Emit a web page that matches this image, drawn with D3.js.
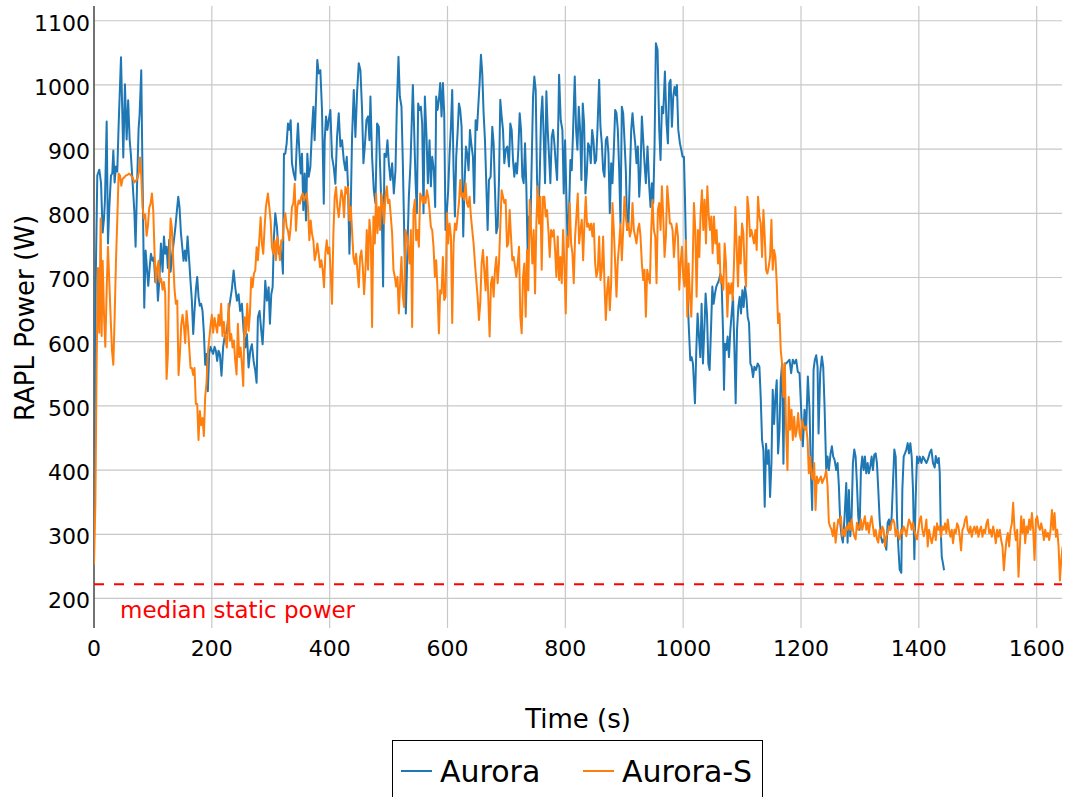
<!DOCTYPE html>
<html><head><meta charset="utf-8">
<script src="https://cdn.jsdelivr.net/npm/d3@7"></script>
<style>body{margin:0;background:#fff}svg text{font-family:"DejaVu Sans",sans-serif}</style>
</head><body><svg id="c" width="1072" height="797"></svg>
<script>
const seriesNames = ["Aurora", "Aurora-S"];
const seriesColors = ["#1f77b4", "#ff7f0e"];
const xTicks = [0, 200, 400, 600, 800, 1000, 1200, 1400, 1600];
const yTicks = [200, 300, 400, 500, 600, 700, 800, 900, 1000, 1100];
const medianStaticPower = 222;
const xTitle = "Time (s)";
const yTitle = "RAPL Power (W)";
const annotationText = "median static power";

// [time (s), power (W)]
const aurora = [[0,290],[3,700],[5.6,859],[9,868],[11.9,848],[14.7,770],[17,792],[18.6,820],[21.5,943],[23.7,753],[26,809],[28.8,859],[31,862],[32.8,898],[35,848],[37.3,873],[39.5,865],[41.8,937],[45.8,1043],[48,959],[49.7,887],[52.5,1001],[55.4,915],[58,976],[60.5,915],[62.7,890],[65.5,848],[68.4,804],[70.6,748],[72.9,837],[75.7,932],[77.4,954],[80.2,1023],[82.5,848],[85.3,653],[87.6,742],[89.8,715],[92.1,687],[94.4,715],[96.6,737],[99.4,726],[101.7,731],[104,693],[106.2,715],[108.5,664],[110.7,693],[113.6,753],[116.4,709],[118.7,764],[120.9,737],[123.2,748],[125.4,715],[127.7,759],[130,709],[132.8,737],[135,753],[137.9,776],[140.1,798],[143,826],[145.2,809],[147.5,770],[149.7,748],[152,726],[154.2,742],[156.5,726],[158.8,764],[161.6,726],[163.9,693],[166.1,664],[168.4,612],[170.6,648],[172.9,681],[175.2,701],[177.4,670],[179.7,656],[181.9,659],[184.2,648],[186.5,614],[188.7,564],[191,581],[193.2,523],[195.5,581],[197.8,592],[200,586],[202.3,581],[204.6,592],[206.8,586],[209.1,570],[211.3,586],[213.6,581],[216.4,547],[219.2,592],[222,609],
[225.5,617],[229.5,654],[234,682],[237,711],[239.7,685],[242.6,664],[245.4,674],[248,648],[251,659],[253.9,617],[257,591],[259.5,612],[262.4,560],[265.2,586],[268,596],[270.9,570],[273.7,555],[276,536],[278.2,638],[281,648],[283.9,617],[286.2,596],[288.4,638],[290.7,695],[293.5,664],[296.4,685],[298.6,628],[300.9,674],[303.2,685],[305.4,763],[307.7,800],[310.5,779],[313.4,737],[316.2,747],[319,732],[320.7,706],[322.4,893],[324.7,893],[327,909],[329.2,940],[331.5,930],[333.8,945],[336,878],[338.9,862],[341.7,852],[344,904],[346.2,940],[348.5,898],[350.8,862],[353,893],[355.3,805],[357.6,862],[359.8,789],[362.1,893],[364.4,857],[367.2,872],[370,930],[372.3,966],[374.5,914],[376.8,977],[379,1039],[381.4,1018],[384.2,1023],[387,961],[390,815],[391.6,914],[393.8,951],[396.1,930],[398.4,945],[401.2,961],[404,888],[406.9,872],[409.7,846],[412.5,919],[415.4,956],[418.2,904],[421,914],[423.9,883],[426.7,867],[429,888],[431.2,841],[433.5,737],[435.8,810],[438,919],[440.9,992],[443.7,919],[446.5,987],[449.4,1034],[452.2,1023],[455,961],[457.3,878],[459.6,904],[462.4,945],[465.2,951],[467.5,914],
[469.2,982],[472,888],[474.9,836],[477.7,816],[480.5,940],[483.4,935],[486.2,857],[489,774],[490.7,686],[493,893],[495.8,888],[498.1,914],[500.4,878],[503.2,852],[506,878],[508.9,831],[511.7,867],[514,966],[516.8,1044],[519.1,982],[521.9,966],[524.2,878],[527,748],[529.3,644],[532.1,748],[534.4,826],[537.2,878],[541.2,1000],[543.4,930],[545.7,852],[548,800],[550.2,971],[552.5,961],[554.8,966],[557,940],[559.3,800],[561.6,982],[564.4,919],[566.7,847],[569.5,914],[571.8,842],[574,888],[576.9,867],[579.1,810],[580.8,982],[583.1,961],[585.4,977],[587.6,1003],[589.9,951],[592.2,1003],[594.4,956],[596.7,774],[599,805],[601.2,836],[603.5,893],[605.8,935],[608,992],[610.3,867],[612.6,795],[614.8,888],[617.1,925],[619.4,971],[621.6,961],[623.9,935],[626.7,764],[629,847],[631.3,904],[633.5,893],[635.8,867],[638.1,930],[640.3,909],[643.2,888],[645.4,816],[647.7,945],[650,930],[652.2,966],[654.5,1003],[656.8,1047],[659,1018],[661.3,956],[663.6,914],[665.8,847],[668.1,774],[670.4,852],[673.2,857],[676,935],[678.3,909],[680.6,836],[682.8,769],[685.1,779],[687.4,852],[689.6,977],[691.9,951],[694.2,930],[696.4,878],
[698.7,899],[701.5,904],[704.4,873],[706.6,940],[708.9,930],[711.2,883],[713.4,857],[715.7,878],[718,862],[720.2,899],[722.5,956],[724.8,930],[727,857],[729.3,847],[731.6,909],[733.8,842],[736.1,738],[738.4,795],[740.6,774],[742.9,878],[745.2,982],[747.4,1013],[749.7,992],[752,852],[754.2,795],[756.5,857],[758.8,951],[761,982],[763.3,919],[765.6,847],[767.8,990],[770.1,930],[772.4,888],[774.6,847],[776.9,919],[779.2,930],[781.4,909],[783.7,878],[786,852],[788.2,951],[789.4,1016],[792.2,945],[795,930],[797.3,831],[799.6,914],[801.8,826],[804.1,748],[806.4,805],[808.6,883],[810.9,867],[813.2,930],[816,1013],[818.3,930],[820.5,899],[822.8,966],[825.1,930],[827.3,852],[829.6,971],[831.9,940],[834.1,831],[836.4,862],[838.7,909],[840.9,904],[843.2,878],[845.5,930],[847.7,914],[850,878],[852.3,883],[854.5,930],[857.4,1008],[859.6,935],[861.9,909],[864.2,867],[866.4,857],[868.7,914],[871,919],[873.2,893],[875.5,800],[877.8,878],[880,847],[882.3,899],[884.6,961],[886.8,956],[889.1,930],[891.4,867],[893.6,784],[895.9,966],[898.2,956],[900.4,914],[902.7,867],[905,774],[907.2,784],[909.5,857],[911.8,930],[914,956],[916.3,930],[918.6,909],[920.8,878],[923.1,904],[925.4,826],[927.6,867],[929.9,951],[932.2,914],[934.4,878],[936.7,847],[939.5,904],
[942.4,842],[944.6,810],[946.9,847],[949.2,816],[951.4,904],[953.7,1065],[956.5,1055],[959.4,930],[961.6,883],[963.9,966],[966.2,956],[969,1021],[971.8,940],[974.1,909],[976.4,1003],[978.6,1008],[980.9,935],[983.2,982],[985.4,997],[987.7,984],[989.4,1000],[991.7,930],[994.5,909],[996.8,899],[999,888],[1001.3,888],[1003,826],[1005.3,722],[1007.5,670],[1009.8,618],[1012.1,571],[1014.3,576],[1016.6,566],[1020,504],[1022.3,587],[1024.5,644],[1026.8,608],[1029.1,576],[1031.3,659],[1033.6,566],[1035.9,618],[1038.1,675],[1040.4,644],[1042.7,566],[1044.9,556],[1047.2,618],[1049.5,686],[1051.7,659],[1054,675],[1056.3,686],[1058.5,691],[1060.8,696],[1063.1,706],[1065.3,691],[1067.6,618],[1069.3,525],[1071,597],[1073.3,587],[1075.5,608],[1077.8,576],[1080.1,618],[1082.3,644],[1084.6,670],[1086.9,592],[1089.1,504],[1091.4,618],[1093.7,654],[1095.9,670],[1098.2,644],[1100.5,680],[1102.7,654],[1105,686],[1107.3,670],[1109.5,639],[1111.8,629],[1114.1,566],[1116.3,561],[1118.6,545],[1120.9,561],[1123.7,556],[1126.5,566],[1129.4,561],[1131.6,514],[1133.9,447],[1136.2,431],[1138.4,343],[1140.7,441],[1143,410],[1145.2,431],[1147.5,358],[1149.8,410],[1152,525],[1154.3,472],[1156.6,514],[1158.8,540],[1161.1,426],[1163.4,462],[1165.6,540],[1167.9,566],[1170.2,410],[1172.4,566],[1174.7,566],
[1177.6,569],[1180.5,572],[1183.3,551],[1186.1,572],[1189,566],[1191.8,572],[1194.6,553],[1197.5,551],[1200.3,494],[1203.1,437],[1206,494],[1208.8,463],[1211.6,546],[1214.5,494],[1216.7,400],[1219,338],[1221.3,556],[1223.5,572],[1225.8,579],[1228.1,561],[1229.8,457],[1232.6,551],[1235.4,577],[1237.7,561],[1240,499],[1242.8,400],[1245.1,421],[1247.3,400],[1250.2,426],[1252.4,437],[1254.7,421],[1257,416],[1259.8,400],[1262.1,411],[1264.3,375],[1266.6,318],[1268.9,297],[1271.1,287],[1274,328],[1276.8,380],[1279.1,287],[1281.3,369],[1283.6,297],[1285.9,328],[1288.1,411],[1290.4,432],[1292.7,421],[1294.9,380],[1297.2,328],[1299.5,307],[1301.7,400],[1304,421],[1306.3,400],[1308.5,421],[1310.8,395],[1313.1,411],[1315.3,395],[1317.6,406],[1319.9,421],[1322.1,400],[1324.4,424],[1326.7,426],[1328.9,411],[1331.2,369],[1333.5,323],[1335.7,297],[1338,287],[1340.3,292],[1342.5,287],[1344.8,276],[1347.1,318],[1349.3,323],[1351.6,307],[1353.9,328],[1356.1,380],[1358.4,432],[1360.7,421],[1362.9,328],[1365.2,281],[1367.5,245],[1370.3,240],[1372,369],[1374.3,421],[1376.5,426],[1378.8,432],[1381.1,442],[1383.3,426],[1385.6,442],[1387.9,421],[1390.1,369],[1392.4,261],[1394.7,359],[1396.9,421],[1399.2,411],[1401.5,421],[1404.3,411],[1407.1,421],[1410,416],[1412.8,411],[1415.6,417],[1418.5,427],[1421.3,432],[1424.1,411],[1427,404],[1428.7,422],[1431.5,411],[1433.8,419],[1435.5,396],[1437.2,307],[1438.9,265],[1441.1,254],[1442.8,244]];

const auroraS = [[0,253],[2.3,347],[4.5,570],[6.8,715],[9,614],[11.3,792],[13,609],[14.7,726],[17,642],[19.2,592],[21.5,681],[23.7,748],[26,693],[28.3,637],[30.5,587],[32.8,564],[35,637],[37.3,726],[39.6,792],[41.8,862],[44.1,859],[46.3,843],[48.6,854],[51.4,856],[54.2,859],[57.1,860],[59.9,862],[62.7,859],[65.5,856],[68.4,848],[71.2,851],[74,854],[76.3,865],[78,887],[80.2,859],[82.5,809],[84.8,792],[87,798],[89.3,765],[91.5,781],[93.8,809],[96.1,815],[98.3,831],[100.6,804],[102.8,737],[105.1,692],[107.4,715],[109.6,726],[111.9,693],[114.1,698],[116.4,681],[118.7,693],[120.9,676],[123.2,542],[125.4,581],[127.7,726],[130,792],[132.2,776],[134.5,726],[136.7,681],[139,659],[141.3,664],[143.5,548],[145.8,581],[148,625],[150.3,642],[152.6,625],[154.8,598],[157.1,648],[159.3,625],[161.6,592],[163.9,559],[166.1,559],[168.4,548],[170.6,559],[172.9,503],[175.2,503],[177.4,447],[179.7,492],[181.9,470],[184.2,481],[186.5,453],[188.7,514],[191,536],[193.2,581],[195.5,603],[197.8,625],[200,642],[202.3,614],[204.6,637],[206.8,625],[209.1,614],[211.3,642],[213.6,625],[215.8,659],[218.1,609],[220.4,631],[222.6,609],
[225.5,591],[228.4,659],[230.6,602],[232.9,612],[235.2,591],[237.4,602],[239.7,570],[242,549],[244.2,628],[246.5,576],[248.8,591],[251,565],[253.3,531],[255.6,638],[257.8,612],[260.1,659],[262.4,617],[264.6,643],[266.9,700],[269.2,685],[271.4,706],[273.7,711],[276,747],[278.2,727],[280.5,758],[282.8,794],[285,753],[287.3,737],[289.6,779],[291.8,810],[295.2,831],[297.5,810],[299.8,789],[302,747],[304.3,737],[306.6,758],[308.8,727],[311.1,763],[313.4,747],[315.6,727],[317.9,758],[320.2,758],[322.4,789],[324.7,800],[327,779],[329.2,773],[331.5,758],[333.8,779],[336,810],[338.3,815],[340.6,846],[342.8,773],[345.1,810],[347.4,820],[349.6,815],[351.9,826],[354.2,831],[356.4,820],[358.7,826],[361,831],[363.2,810],[365.5,758],[367.8,789],[370,768],[372.3,758],[374.6,727],[376.8,737],[379.1,753],[381.4,737],[383.6,716],[385.9,727],[388.2,711],[390.4,685],[392.7,737],[395,758],[397.2,737],[399.5,747],[401.8,706],[404,659],[406.3,768],[408.6,826],[410.8,841],[413.1,810],[415.4,794],[417.6,815],[419.9,836],[422.2,826],[424.4,794],[426.7,841],[429,831],[431.2,841],[433.5,789],[435.8,810],[438,773],[440.3,732],[442.6,721],[444.8,737],[447.1,711],[449.4,685],[451.6,732],[453.9,742],[456.2,716],[458.4,674],[460.7,711],
[463,774],[465.2,712],[467.5,790],[469.8,764],[472,623],[474.3,795],[476.6,753],[478.8,831],[481.1,769],[483.4,810],[485.6,774],[487.9,831],[490.2,816],[492.4,784],[494.7,826],[497,842],[499.2,816],[501.5,821],[503.8,795],[506,769],[508.3,712],[510.6,701],[512.8,686],[515.1,701],[517.4,644],[519.6,691],[521.9,732],[524.2,670],[526.4,654],[528.7,774],[531,764],[533.2,748],[535.5,722],[537.8,774],[540,623],[542.3,805],[544.6,821],[546.8,758],[549.1,774],[551.4,748],[553.6,831],[555.9,826],[558.2,816],[560.4,826],[562.7,816],[565,836],[567.2,826],[569.5,805],[571.8,779],[574,774],[576.3,748],[578.6,701],[580.8,727],[583.1,680],[585.4,613],[587.6,680],[589.9,675],[592.2,732],[594.4,665],[596.7,670],[599,800],[601.2,753],[603.5,784],[605.8,764],[608,629],[610.3,753],[612.6,784],[614.8,774],[617.1,795],[619.4,816],[621.6,852],[623.9,826],[626.2,831],[628.4,821],[630.7,847],[633,816],[635.2,810],[637.5,826],[639.8,795],[642,774],[644.3,753],[646.6,722],[648.8,696],[651.1,670],[653.4,634],[655.6,660],[657.9,722],[660.2,743],[662.4,712],[664.7,680],[667,732],[669.2,670],[671.5,608],[673.8,691],[676,701],[678.3,670],[680.6,712],[682.8,732],[685.1,691],[687.4,722],[689.6,779],[691.9,836],[694.2,826],[696.4,816],
[698.7,821],[701,748],[703.2,753],[705.5,805],[707.8,764],[710,727],[712.3,732],[714.6,717],[716.8,701],[719.1,722],[721.4,748],[723.6,639],[725.9,613],[728.2,701],[730.4,722],[732.7,639],[735,743],[737.2,680],[739.5,821],[741.8,774],[744,722],[746.3,774],[748.6,675],[750.8,784],[753.1,842],[755.4,784],[757.6,826],[759.9,712],[762.2,826],[764.4,826],[766.7,795],[769,805],[771.2,774],[773.5,732],[775.8,774],[778,764],[780.3,774],[782.6,743],[784.8,701],[787.1,764],[789.4,696],[791.6,732],[793.9,691],[796.2,774],[798.4,722],[800.7,644],[803,764],[805.2,748],[807.5,816],[809.8,753],[812,738],[814.3,691],[816.6,764],[818.8,795],[821.1,831],[823.4,753],[825.6,774],[827.9,790],[830.2,727],[832.4,784],[834.7,826],[837,779],[839.2,784],[841.5,774],[843.8,784],[846,764],[848.3,784],[850.6,722],[852.8,701],[855.1,712],[857.4,764],[859.6,696],[861.9,712],[864.2,764],[866.4,691],[868.7,634],[871,680],[873.2,701],[875.5,649],[877.8,691],[880,816],[882.3,774],[884.6,722],[886.8,670],[889.1,727],[891.4,753],[893.6,784],[895.9,727],[898.2,774],[900.4,826],[902.7,795],[905,774],[907.2,784],[909.5,764],[911.8,774],[914,816],[916.3,774],[918.6,764],[920.8,753],[923.1,774],[925.4,784],[927.6,764],[929.9,722],[932.2,696],[934.4,712],[936.7,639],[939,712],[941.2,701],[943.5,691],
[945.8,774],[948,821],[950.3,774],[952.6,764],[954.8,691],[957.1,805],[959.4,816],[961.6,774],[963.9,842],[966.2,795],[968.4,732],[970.7,764],[973,842],[975.2,816],[977.5,784],[979.8,784],[982,774],[984.3,732],[986.6,764],[988.8,784],[991.1,764],[993.4,681],[995.6,722],[997.9,748],[1000.2,701],[1002.4,686],[1004.7,758],[1007,639],[1009.2,722],[1011.5,670],[1013.8,639],[1016,712],[1018.3,816],[1020.6,774],[1022.8,670],[1025.1,774],[1027.4,732],[1029.6,800],[1031.9,836],[1034.2,774],[1036.4,821],[1038.7,753],[1041,842],[1043.2,800],[1045.5,774],[1047.8,795],[1050,738],[1052.3,795],[1054.6,753],[1056.8,774],[1059.1,722],[1061.4,753],[1063.6,691],[1065.9,701],[1068.2,681],[1070.4,753],[1072.7,722],[1075,639],[1077.2,691],[1079.5,675],[1081.8,691],[1084,665],[1086.3,722],[1088.6,810],[1090.8,748],[1093.1,686],[1095.4,764],[1097.6,722],[1099.9,784],[1102.2,769],[1104.4,712],[1106.7,686],[1109,826],[1111.2,805],[1113.5,764],[1115.8,774],[1118,764],[1120.3,753],[1122.6,774],[1124.8,743],[1127.1,826],[1129.4,795],[1131.6,784],[1133.9,732],[1136.2,805],[1138.4,764],[1140.7,712],[1143,706],[1145.2,717],[1147.5,732],[1149.8,790],[1152,712],[1154.3,743],[1156.6,732],[1158.8,691],[1161.1,629],[1163.4,644],[1165.6,587],[1167.9,566],[1170.2,514],[1172.4,566],[1174.7,462],[1177,400],[1179.2,514],
[1181.6,463],[1183.9,494],[1186.1,447],[1188.4,483],[1190.7,452],[1192.9,463],[1195.2,489],[1197.5,458],[1199.7,447],[1202,478],[1204.3,468],[1206.5,463],[1208.8,468],[1211.1,447],[1213.3,395],[1215.6,421],[1217.9,390],[1220.1,385],[1222.4,411],[1224.7,338],[1226.9,390],[1229.2,380],[1231.5,385],[1233.7,390],[1236,380],[1238.3,385],[1240.5,390],[1242.8,400],[1245.1,375],[1247.3,318],[1249.6,312],[1251.9,307],[1254.1,297],[1256.4,318],[1258.7,287],[1260.9,307],[1263.2,323],[1265.5,318],[1267.7,328],[1270,297],[1272.3,307],[1274.5,297],[1276.8,312],[1279.1,307],[1281.3,318],[1283.6,307],[1285.9,323],[1288.1,307],[1290.4,297],[1292.7,292],[1294.9,318],[1297.2,307],[1299.5,312],[1301.7,323],[1304,307],[1306.3,318],[1308.5,328],[1310.8,307],[1313.1,318],[1315.3,302],[1317.6,318],[1319.9,328],[1322.1,312],[1324.4,297],[1326.7,307],[1328.9,292],[1331.2,287],[1333.5,307],[1335.7,297],[1338,312],[1340.3,307],[1342.5,281],[1344.8,297],[1347.1,302],[1349.3,312],[1351.6,307],[1353.9,318],[1356.1,323],[1358.4,318],[1360.7,297],[1362.9,307],[1365.2,297],[1367.5,292],[1369.7,307],[1372,302],[1374.3,312],[1376.5,307],[1378.8,297],[1381.1,312],[1383.3,323],[1385.6,318],[1387.9,307],[1390.1,318],[1392.4,307],[1394.7,297],[1396.9,292],[1399.2,307],[1401.5,323],[1403.7,328],[1406,307],[1408.3,297],[1410.5,307],
[1412.8,323],[1415.1,281],[1417.3,307],[1419.6,296],[1421.9,286],[1424.1,296],[1426.4,312],[1428.7,291],[1430.9,317],[1433.2,307],[1435.5,312],[1437.7,296],[1440,312],[1442.3,307],[1444.5,317],[1446.8,302],[1449.1,323],[1451.3,307],[1453.6,296],[1455.9,307],[1458.1,286],[1460.4,307],[1462.7,302],[1464.9,317],[1467.2,312],[1469.5,296],[1471.7,275],[1474,307],[1476.3,312],[1478.5,323],[1480.8,328],[1483.1,307],[1485.3,302],[1487.6,312],[1489.9,296],[1492.1,307],[1494.4,312],[1496.7,302],[1498.9,312],[1501.2,296],[1503.5,307],[1505.7,312],[1508,296],[1510.3,307],[1512.5,302],[1514.8,317],[1517.1,323],[1519.3,302],[1521.6,307],[1523.9,296],[1526.1,312],[1528.4,302],[1530.7,286],[1532.9,307],[1535.2,296],[1537.5,307],[1539.7,291],[1542,281],[1544.3,244],[1546.5,270],[1548.8,291],[1551.1,302],[1553.3,281],[1555.6,307],[1557.9,317],[1560.1,349],[1562.4,307],[1564.7,291],[1566.9,307],[1569.2,234],[1571.5,281],[1573.7,328],[1576,302],[1578.3,323],[1580.5,286],[1582.8,312],[1585.1,302],[1587.3,323],[1589.6,307],[1591.9,333],[1594.1,307],[1596.4,260],[1598.7,323],[1600.9,328],[1603.2,312],[1605.5,307],[1607.7,317],[1610,307],[1612.3,291],[1614.5,307],[1616.8,296],[1619.1,302],[1621.3,291],[1623.6,307],[1625.9,338],[1628.1,307],[1630.4,333],[1632.7,296],[1634.9,307],[1637.2,281],[1639.5,228],[1641.7,260],[1644,281]];

const series = [aurora, auroraS];

const svg = d3.select("#c");
const plot = {left: 94, right: 1062, top: 6, bottom: 628};
const x = d3.scaleLinear().domain([0, 1643]).range([plot.left, plot.right]);
const y = d3.scaleLinear().domain([154, 1123]).range([plot.bottom, plot.top]);

svg.append("rect").attr("width", 1072).attr("height", 797).attr("fill", "#fff");

// grid
const grid = svg.append("g");
grid.selectAll("line.h").data(yTicks).enter().append("line")
  .attr("x1", plot.left).attr("x2", plot.right)
  .attr("y1", d => y(d)).attr("y2", d => y(d))
  .attr("stroke", "#c8c8c8").attr("stroke-width", 1.2);
grid.selectAll("line.v").data(xTicks.filter(d => d > 0)).enter().append("line")
  .attr("y1", plot.top).attr("y2", plot.bottom)
  .attr("x1", d => x(d)).attr("x2", d => x(d))
  .attr("stroke", "#c8c8c8").attr("stroke-width", 1.2);

// zero line (y axis)
svg.append("line").attr("x1", x(0)).attr("x2", x(0)).attr("y1", plot.top).attr("y2", plot.bottom)
  .attr("stroke", "#444").attr("stroke-width", 1.5);

// clip
svg.append("clipPath").attr("id", "clip").append("rect")
  .attr("x", plot.left).attr("y", plot.top).attr("width", plot.right - plot.left).attr("height", plot.bottom - plot.top);

const line = d3.line().x(d => x(d[0])).y(d => y(d[1]));
const lines = svg.append("g").attr("clip-path", "url(#clip)");
series.forEach((s, i) => {
  lines.append("path").datum(s).attr("d", line).attr("fill", "none")
    .attr("stroke", seriesColors[i]).attr("stroke-width", 2).attr("stroke-linejoin", "round");
});

// median static power
svg.append("line").attr("x1", plot.left).attr("x2", plot.right)
  .attr("y1", y(medianStaticPower)).attr("y2", y(medianStaticPower))
  .attr("stroke", "#ff0000").attr("stroke-width", 2).attr("stroke-dasharray", "10,10");
svg.append("text").attr("x", 120).attr("y", 618).attr("fill", "#ff0000")
  .attr("font-size", 23).text(annotationText);

// tick labels
svg.append("g").selectAll("text").data(yTicks).enter().append("text")
  .attr("x", 90).attr("y", d => y(d)).attr("dy", "0.45em").attr("text-anchor", "end")
  .attr("font-size", 22).attr("fill", "#000").text(d => d);
svg.append("g").selectAll("text").data(xTicks).enter().append("text")
  .attr("x", d => x(d)).attr("y", 656).attr("text-anchor", "middle")
  .attr("font-size", 22).attr("fill", "#000").text(d => d);

// axis titles
svg.append("text").attr("x", 578).attr("y", 728).attr("text-anchor", "middle")
  .attr("font-size", 26).attr("fill", "#000").text(xTitle);
svg.append("text").attr("transform", "translate(34,318) rotate(-90)").attr("text-anchor", "middle")
  .attr("font-size", 26).attr("fill", "#000").text(yTitle);

// legend
const lg = svg.append("g");
lg.append("rect").attr("x", 392.5).attr("y", 740.5).attr("width", 370).attr("height", 80)
  .attr("fill", "#fff").attr("stroke", "#000").attr("stroke-width", 1);
const legendX = [401, 583];
seriesNames.forEach((n, i) => {
  lg.append("line").attr("x1", legendX[i]).attr("x2", legendX[i] + 31).attr("y1", 771).attr("y2", 771)
    .attr("stroke", seriesColors[i]).attr("stroke-width", 2);
  lg.append("text").attr("x", legendX[i] + 39).attr("y", 782).attr("font-size", 30).attr("fill", "#000").text(n);
});
</script></body></html>
